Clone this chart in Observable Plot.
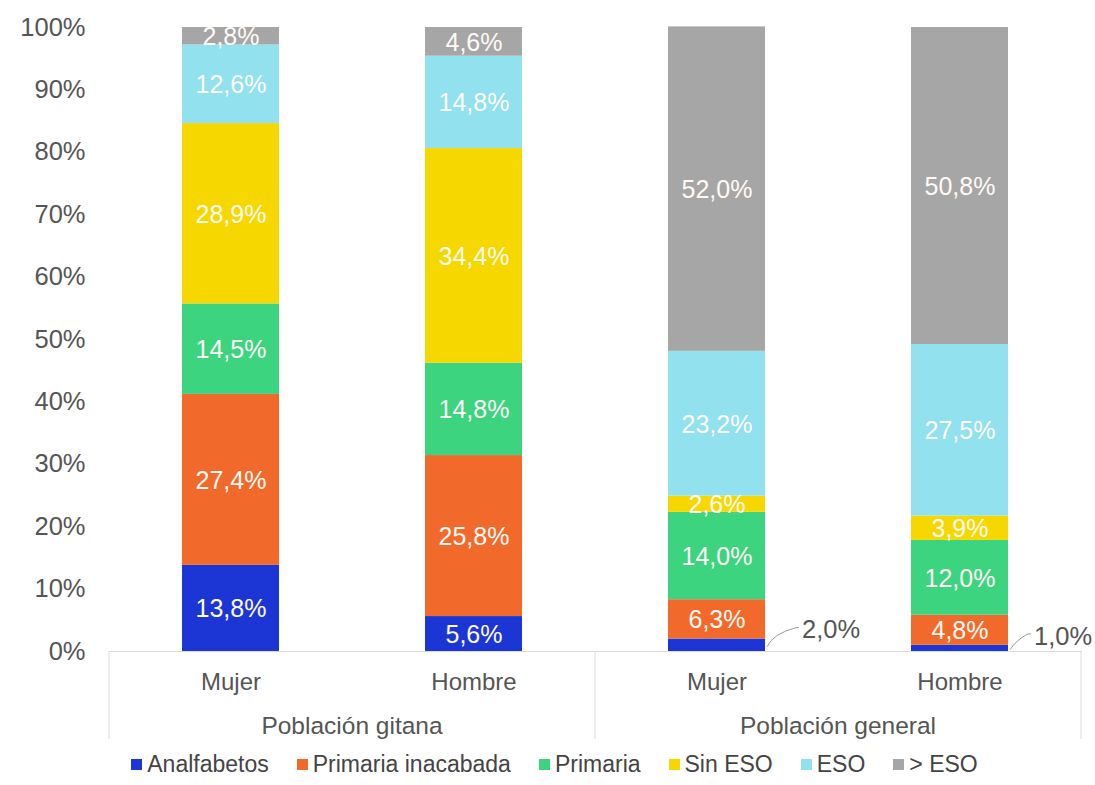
<!DOCTYPE html>
<html>
<head>
<meta charset="utf-8">
<script src="https://cdn.jsdelivr.net/npm/d3@7"></script>
<script src="https://cdn.jsdelivr.net/npm/@observablehq/plot@0.6"></script>
<style>
  body { margin: 0; background: #fff; font-family: "Liberation Sans", Arial, Helvetica, sans-serif; }
  #chart { width: 1095px; }
  .legend { display: flex; justify-content: center; align-items: center; gap: 28px; margin-top: 3px; margin-left: 14px;
            font-size: 23px; color: #444; }
  .legend .item { display: flex; align-items: center; gap: 5px; }
  .legend .sw { width: 11px; height: 11px; display: inline-block; }
</style>
</head>
<body>
<div id="chart"></div>
<script>
// ---- data ----
const groups = ["Población gitana", "Población general"];
const genders = ["Mujer", "Hombre"];
const levels = ["Analfabetos", "Primaria inacabada", "Primaria", "Sin ESO", "ESO", "> ESO"];
const levelColors = ["#1c36d6", "#f26a2b", "#3dd47f", "#f6d700", "#91e1ee", "#a6a6a6"];
const gitanaMujer   = [13.8, 27.4, 14.5, 28.9, 12.6, 2.8];
const gitanaHombre  = [5.6, 25.8, 14.8, 34.4, 14.8, 4.6];
const generalMujer  = [2.0, 6.3, 14.0, 2.6, 23.2, 52.0];
const generalHombre = [1.0, 4.8, 12.0, 3.9, 27.5, 50.8];
const yTicks = [0, 10, 20, 30, 40, 50, 60, 70, 80, 90, 100];

// ---- build table ----
const series = [
  {group: groups[0], gender: genders[0], values: gitanaMujer},
  {group: groups[0], gender: genders[1], values: gitanaHombre},
  {group: groups[1], gender: genders[0], values: generalMujer},
  {group: groups[1], gender: genders[1], values: generalHombre}
];
const keys = series.map(s => s.group + "|" + s.gender);
const rows = series.flatMap(s => s.values.map((v, i) => ({
  key: s.group + "|" + s.gender, group: s.group, gender: s.gender, level: levels[i], value: v
})));
const fmt = v => v.toFixed(1).replace(".", ",") + "%";
const INSIDE_MIN = 2.5;

// decorations: group separators, group labels, outside labels with leader lines
function decorations(index, scales, values, dimensions) {
  const {x, y} = scales;
  const bw = x.bandwidth(), step = x.step();
  const pad = (step - bw) / 2;
  const y0 = y(0);
  const g = d3.create("svg:g");
  const edges = [];
  groups.forEach(grp => {
    const ks = keys.filter(k => k.startsWith(grp + "|"));
    const left = x(ks[0]) - pad;
    const right = x(ks[ks.length - 1]) + bw + pad;
    edges.push(left, right);
    g.append("text")
      .attr("x", (left + right) / 2).attr("y", y0 + 77)
      .attr("text-anchor", "middle").attr("dominant-baseline", "middle")
      .attr("fill", "#555").attr("font-size", 24.5)
      .text(grp);
  });
  [...new Set(edges.map(e => Math.round(e * 10) / 10))].forEach(e => {
    g.append("line").attr("x1", e).attr("x2", e).attr("y1", y0).attr("y2", y0 + 88)
      .attr("stroke", "#dcdcdc").attr("stroke-width", 1);
  });
  // outside labels
  keys.forEach(k => {
    let cum = 0;
    rows.filter(r => r.key === k).forEach(r => {
      const mid = cum + r.value / 2;
      cum += r.value;
      if (r.value >= INSIDE_MIN) return;
      const right = x(k) + bw;
      const sy = y(mid);
      const ty = y(r.value + 1.1);
      const ex = right + 9 + 11 * r.value;
      g.append("path")
        .attr("d", `M${right + 2},${sy + 2} Q${right + 8},${ty + 2} ${ex},${ty - 4} L${ex + 3},${ty - 4}`)
        .attr("fill", "none").attr("stroke", "#9a9a9a").attr("stroke-width", 1);
      g.append("text")
        .attr("x", ex + 6).attr("y", ty)
        .attr("text-anchor", "start").attr("dominant-baseline", "middle")
        .attr("fill", "#555").attr("font-size", 25.5)
        .text(fmt(r.value));
    });
  });
  return g.node();
}

const plot = Plot.plot({
  width: 1095,
  height: 748,
  marginTop: 27,
  marginBottom: 97,
  marginLeft: 109,
  marginRight: 13,
  style: {fontSize: "24px", fontFamily: "'Liberation Sans', Arial, Helvetica, sans-serif", color: "#555", background: "#fff"},
  x: {domain: keys, paddingInner: 0.6, paddingOuter: 0.3, tickFormat: k => k.split("|")[1],
      tickSize: 0, tickPadding: 21, label: null},
  y: {domain: [0, 100], ticks: yTicks, tickFormat: d => d + "%", tickSize: 0, tickPadding: 24, label: null},
  color: {domain: levels, range: levelColors},
  marks: [
    Plot.barY(rows, Plot.stackY({x: "key", y: "value", z: "level", order: levels, fill: "level"})),
    Plot.ruleY([0], {stroke: "#dcdcdc"}),
    Plot.text(rows, Plot.stackY({x: "key", y: "value", z: "level", order: levels,
      text: d => d.value >= INSIDE_MIN ? fmt(d.value) : "", fill: "#fffaf5", fontSize: 25, dy: 1})),
    decorations
  ]
});
document.getElementById("chart").appendChild(plot);

// y tick labels slightly larger than x ones
d3.select(plot).selectAll("[aria-label='y-axis tick label'], [aria-label='y-axis'] text").attr("font-size", 25.5);

// legend
const legend = document.createElement("div");
legend.className = "legend";
levels.forEach((l, i) => {
  const it = document.createElement("span");
  it.className = "item";
  const sw = document.createElement("span");
  sw.className = "sw";
  sw.style.background = levelColors[i];
  const tx = document.createElement("span");
  tx.textContent = l;
  it.appendChild(sw); it.appendChild(tx);
  legend.appendChild(it);
});
document.getElementById("chart").appendChild(legend);
</script>
</body>
</html>
